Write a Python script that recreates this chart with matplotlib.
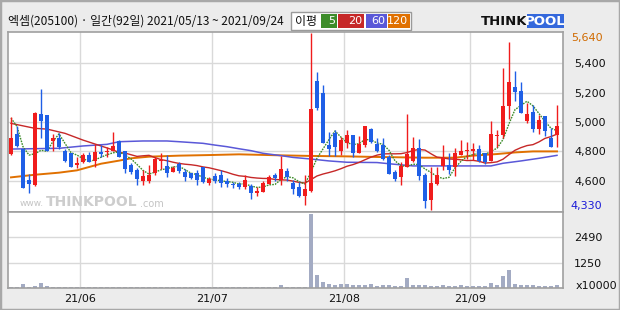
import matplotlib
matplotlib.use("Agg")
import matplotlib.pyplot as plt
from matplotlib.patches import Rectangle
import pandas as pd

# ---------------- data ----------------
title_text = "엑셈(205100) · 일간(92일) 2021/05/13 ~ 2021/09/24"
ma_title = "이평"
ma_labels = ["5", "20", "60", "120"]
month_labels = ["21/06", "21/07", "21/08", "21/09"]
month_start = [12, 34, 56, 77]
price_ticks = [4600, 4800, 5000, 5200, 5400]
vol_ticks = [1250, 2490]
price_max_label = "5,640"
price_min_label = "4,330"
vol_unit = "x10000"

opens = [4782, 4918, 4816, 4605, 4570, 5055, 5048, 4873, 4889, 4805,
         4787, 4707, 4730, 4773, 4737, 4796, 4794, 4805, 4873, 4803,
         4707, 4673, 4600, 4598, 4650, 4735, 4701, 4662, 4712, 4662,
         4650, 4650, 4692, 4582, 4632, 4637, 4600, 4578, 4578, 4555,
         4564, 4519, 4526, 4578, 4639, 4605, 4666, 4587, 4560, 4496,
         4533, 5280, 5200, 4843, 4923, 4805, 4859, 4912, 4792, 4843,
         4952, 4850, 4843, 4759, 4660, 4628, 4696, 4735, 4823, 4639,
         4469, 4580, 4701, 4705, 4696, 4773, 4803, 4805, 4814, 4787,
         4737, 4905, 4914, 5107, 5239, 5212, 5009, 5066, 4952, 5039,
         4889, 4912]
highs = [5032, 4975, 4818, 4644, 5071, 5225, 5050, 4918, 4923, 4814,
         4790, 4764, 4791, 4796, 4850, 4846, 4832, 4930, 4877, 4805,
         4719, 4685, 4673, 4707, 4764, 4787, 4776, 4700, 4726, 4678,
         4655, 4673, 4696, 4628, 4650, 4673, 4616, 4591, 4594, 4639,
         4578, 4560, 4600, 4639, 4655, 4771, 4685, 4605, 4594, 4639,
         5604, 5343, 5252, 4930, 4946, 4900, 4946, 4914, 4905, 4975,
         4962, 4889, 4889, 4775, 4673, 4730, 5055, 4896, 4882, 4650,
         4696, 4696, 4846, 4787, 4825, 4878, 4862, 4855, 4841, 4791,
         5009, 4948, 5366, 5545, 5350, 5275, 5130, 5118, 5050, 5039,
         4962, 5118]
lows = [4775, 4832, 4550, 4514, 4565, 4889, 4800, 4805, 4814, 4730,
        4694, 4685, 4719, 4726, 4696, 4759, 4764, 4805, 4759, 4651,
        4646, 4571, 4571, 4582, 4639, 4683, 4623, 4660, 4650, 4600,
        4615, 4571, 4582, 4571, 4582, 4560, 4555, 4551, 4542, 4542,
        4473, 4496, 4526, 4578, 4600, 4571, 4600, 4510, 4492, 4437,
        4526, 5082, 4859, 4771, 4771, 4775, 4821, 4764, 4790, 4832,
        4855, 4798, 4741, 4644, 4600, 4571, 4696, 4730, 4605, 4417,
        4401, 4569, 4673, 4644, 4634, 4773, 4748, 4741, 4728, 4714,
        4737, 4830, 4891, 5023, 5141, 5061, 4993, 4930, 4918, 4902,
        4828, 4832]
closes = [4893, 4839, 4553, 4575, 5062, 5009, 4805, 4889, 4832, 4737,
          4696, 4719, 4773, 4730, 4794, 4785, 4805, 4837, 4764, 4680,
          4662, 4612, 4634, 4639, 4746, 4741, 4655, 4685, 4669, 4628,
          4621, 4605, 4594, 4612, 4600, 4587, 4578, 4569, 4555, 4605,
          4514, 4530, 4582, 4628, 4621, 4680, 4628, 4542, 4496, 4542,
          5089, 5098, 4859, 4818, 4832, 4877, 4912, 4792, 4850, 4973,
          4866, 4805, 4748, 4646, 4614, 4701, 4780, 4823, 4634, 4464,
          4582, 4639, 4757, 4673, 4789, 4803, 4812, 4814, 4735, 4726,
          4918, 4914, 5111, 5273, 5207, 5061, 5057, 4952, 5011, 4941,
          4828, 4973]
volumes = [70, 70, 190, 70, 90, 240, 120, 70, 70, 70,
           70, 70, 70, 70, 70, 70, 70, 70, 70, 70,
           70, 70, 70, 70, 70, 70, 70, 70, 70, 70,
           70, 70, 70, 70, 70, 70, 70, 70, 70, 70,
           70, 70, 70, 70, 70, 140, 70, 70, 70, 70,
           3645, 620, 272, 174, 124, 174, 174, 124, 124, 124,
           174, 75, 124, 124, 75, 75, 470, 124, 124, 124,
           75, 75, 124, 75, 75, 124, 75, 75, 75, 75,
           223, 124, 570, 868, 174, 124, 124, 124, 75, 75,
           75, 124]

# moving averages read from the chart where history is not shown
ma5_early = [5027, 4970, 4832, 4775]
ma20_early_idx = [0, 4, 6, 9, 12, 15, 17, 18]
ma20_early_val = [4991, 4957, 4952, 4923, 4877, 4837, 4810, 4792]
ma60_idx = [0, 8, 12, 16, 18, 22, 26, 28, 32, 34, 36, 38, 40, 42, 45, 47,
            50, 53, 56, 61, 64, 67, 70, 75, 80, 82, 85, 88, 91]
ma60_val = [4816, 4821, 4837, 4848, 4866, 4871, 4871, 4866, 4855, 4843,
            4832, 4818, 4805, 4787, 4771, 4759, 4748, 4735, 4726, 4724,
            4712, 4701, 4701, 4701, 4701, 4719, 4735, 4753, 4773]
ma120_idx = [0, 4, 8, 11, 15, 18, 20, 23, 28, 33, 38, 45, 50, 56, 61, 69,
             74, 77, 81, 84, 87, 91]
ma120_val = [4623, 4641, 4655, 4671, 4716, 4737, 4753, 4764, 4771, 4775,
             4780, 4773, 4769, 4766, 4762, 4757, 4757, 4771, 4782, 4793,
             4800, 4800]

# ---------------- styles ----------------
BG = "#ececec"
GRID = "#d9d9d9"
FRAME = "#a0a0a0"
UP = "#f01c1c"
DOWN = "#1f5fe6"
VOLC = "#a3abc3"
C5, C20, C60, C120 = "#3d8c2a", "#c62828", "#5a58d8", "#e07000"

W, H = 620, 310
fig = plt.figure(figsize=(W / 100, H / 100), dpi=100, facecolor=BG)


def fx(x):
    return x / W


def fy(y):
    return 1 - y / H


ax = fig.add_axes([fx(8), fy(212), (563 - 8) / W, (212 - 31.5) / H])
axv = fig.add_axes([fx(8), fy(288), (563 - 8) / W, (288 - 212) / H])

n = len(closes)
xs = list(range(n))
cs = pd.Series(closes, dtype=float)
ma5_calc = cs.rolling(5).mean().tolist()
ma20_calc = cs.rolling(20).mean().tolist()
ma5 = ma5_early + ma5_calc[4:]
ma20_x = ma20_early_idx + xs[19:]
ma20_y = ma20_early_val + ma20_calc[19:]

for a in (ax, axv):
    a.set_facecolor("white")
    a.set_xlim(-0.5, 92)
    for s in a.spines.values():
        s.set_color(FRAME)
        s.set_linewidth(1.2)
    for m in month_start:
        a.axvline(m - 0.5, color=GRID, lw=1, zorder=0)

ax.set_ylim(4387, 5617)
for t in price_ticks:
    ax.axhline(t, color=GRID, lw=1, zorder=0)

# moving averages
ax.plot(ma120_idx, ma120_val, color=C120, lw=1.4, zorder=2)
ax.plot(ma60_idx, ma60_val, color=C60, lw=1.1, zorder=2)
ax.plot(ma20_x, ma20_y, color=C20, lw=1.0, zorder=2)
ax.plot(xs, ma5, color=C5, lw=1.0, ls=(0, (1.2, 0.8)), zorder=2)

# candles
for i in xs:
    o, h, l, c = opens[i], highs[i], lows[i], closes[i]
    col = UP if c >= o else DOWN
    ax.vlines(i, l, h, color=col, lw=1.0, zorder=3)
    body = max(abs(c - o), 7)
    ax.bar(i, body, bottom=min(o, c), width=0.78, color=col, lw=0, zorder=4)

ax.set_xticks([])
ax.yaxis.tick_right()
ax.set_yticks(price_ticks)
ax.set_yticklabels([f"{t:,}" for t in price_ticks])
ax.tick_params(axis="y", length=0, pad=8, labelsize=8, labelcolor="#111111")

tr = ax.transAxes
ax.text(1.014, 0.965, price_max_label, transform=tr, color="#d06a00",
        fontsize=8, va="center", ha="left")
ax.text(1.014, 0.033, price_min_label, transform=tr, color="#1a1ad8",
        fontsize=8, va="center", ha="left")

# volume
axv.set_ylim(0, 3745)
for t in vol_ticks:
    axv.axhline(t, color=GRID, lw=1, zorder=0)
axv.bar(xs, volumes, width=0.82, color=VOLC, lw=0, zorder=2)
axv.yaxis.tick_right()
axv.set_yticks(vol_ticks)
axv.set_yticklabels([str(t) for t in vol_ticks])
axv.tick_params(axis="y", length=0, pad=8, labelsize=8, labelcolor="#111111")
axv.set_xticks([m - 0.5 for m in month_start])
axv.set_xticklabels(month_labels)
axv.tick_params(axis="x", length=0, pad=4, labelsize=8, labelcolor="#111111")
axv.text(1.022, 0.02, vol_unit, transform=axv.transAxes, fontsize=8,
         va="center", ha="left", color="#111111")

# header
fig.text(fx(8), fy(21), title_text, fontsize=8.6, va="center", ha="left",
         family=["Noto Sans CJK KR", "DejaVu Sans"], color="#111111")

# MA legend box
fig.patches.append(Rectangle((fx(291), fy(30)), (411 - 291) / W, 18 / H,
                             transform=fig.transFigure, facecolor="white",
                             edgecolor="#9a9a9a", lw=1))
fig.text(fx(306), fy(21), ma_title, fontsize=8.6, va="center", ha="center",
         family=["Noto Sans CJK KR", "DejaVu Sans"], color="#111111")
boxes = [(321, 337, C5), (338, 364, C20), (366, 387, C60), (388, 410, C120)]
for (x0, x1, col), lab in zip(boxes, ma_labels):
    fig.patches.append(Rectangle((fx(x0), fy(28)), (x1 - x0) / W, 14 / H,
                                 transform=fig.transFigure, facecolor=col,
                                 edgecolor="none"))
    fig.text(fx(x1 - 2), fy(21), lab, fontsize=8, va="center", ha="right",
             color="white")

# logo
fig.text(fx(481), fy(21.5), "THINK", fontsize=9.5, fontweight="bold",
         va="center", ha="left", color="#111111")
fig.patches.append(Rectangle((fx(527), fy(28)), 37 / W, 14 / H,
                             transform=fig.transFigure, facecolor="#3468dc",
                             edgecolor="none"))
fig.text(fx(545.5), fy(21.5), "POOL", fontsize=9.5, fontweight="bold",
         va="center", ha="center", color="white")

# watermark
fig.text(fx(44), fy(204), "www.", fontsize=6.5, va="center", ha="right",
         color="#c4c4c4")
fig.text(fx(46), fy(202), "THINKPOOL", fontsize=10, fontweight="bold",
         va="center", ha="left", color="#cdcdcd")
fig.text(fx(140), fy(204), ".com", fontsize=7, va="center", ha="left",
         color="#c4c4c4")

# outer frame
fig.patches.append(Rectangle((0, 0), 1, 1, transform=fig.transFigure,
                             fill=False, edgecolor="#a8a8a8", lw=2.5))

fig.savefig("out.png", dpi=100, facecolor=BG)
